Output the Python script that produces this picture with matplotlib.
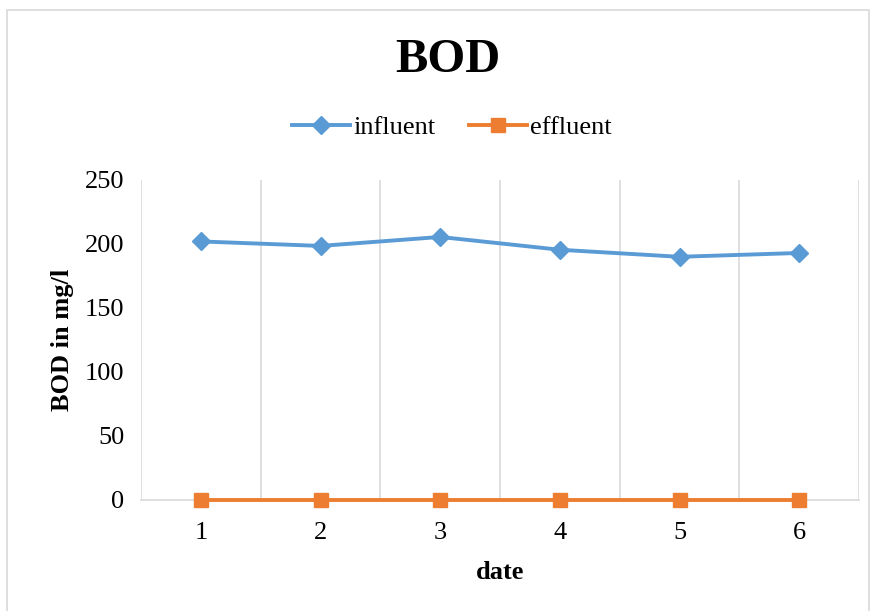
import matplotlib.pyplot as plt
from matplotlib.patches import Rectangle

dates = [1, 2, 3, 4, 5, 6]
influent = [202, 198.5, 205.5, 195.5, 190, 193]
effluent = [0, 0, 0, 0, 0, 0]

plt.rcParams['font.family'] = ['Liberation Serif', 'DejaVu Serif']

fig = plt.figure(figsize=(8.77, 6.11), dpi=100)
ax = fig.add_axes([141 / 877, 1 - 500 / 611, 718 / 877, 320 / 611])

# chart border like excel
fig.patches.append(Rectangle((7 / 877, -0.01), 862 / 877, 1 - 10 / 611 + 0.01,
                             transform=fig.transFigure, fill=False,
                             edgecolor='#d9d9d9', linewidth=1.2))

ax.plot(dates, influent, color='#5b9bd5', linewidth=2.8, marker='D', markersize=9,
        label='influent', zorder=3)
ax.plot(dates, effluent, color='#ed7d31', linewidth=2.8, marker='s', markersize=10,
        label='effluent', zorder=3, clip_on=False)

ax.set_xlim(0.5, 6.5)
ax.set_ylim(0, 250)
ax.set_xticks(dates)
ax.set_yticks(range(0, 251, 50))
ax.tick_params(axis='both', length=0, labelsize=19, colors='black')
ax.tick_params(axis='x', pad=16)
ax.tick_params(axis='y', pad=12)

for x in [0.5, 1.5, 2.5, 3.5, 4.5, 5.5, 6.5]:
    ax.axvline(x, color='#d9d9d9', linewidth=1.2, zorder=1)

for s in ['top', 'left', 'right']:
    ax.spines[s].set_visible(False)
ax.spines['bottom'].set_color('#d9d9d9')
ax.spines['bottom'].set_linewidth(1.2)

ax.set_xlabel('date', fontsize=19, fontweight='bold', labelpad=12)
ax.set_ylabel('BOD in mg/l', fontsize=19, fontweight='bold', labelpad=8)

fig.text(448 / 877, 1 - 60 / 611, 'BOD', fontsize=35, fontweight='bold',
         ha='center', va='center')
fig.legend(loc='center', bbox_to_anchor=(452 / 877, 1 - 127 / 611), ncol=2,
           frameon=False, fontsize=19, handlelength=2.2, columnspacing=1.3,
           handletextpad=0.1)

fig.savefig('out.png', dpi=100)
